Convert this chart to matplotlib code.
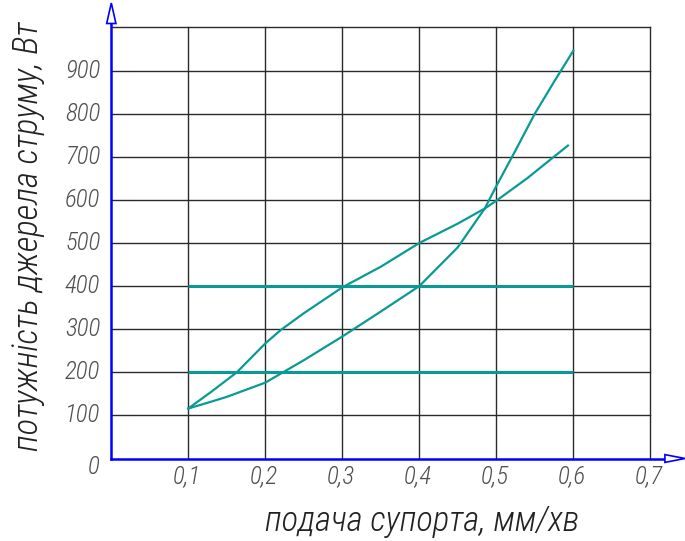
import matplotlib
matplotlib.use('Agg')
import matplotlib.pyplot as plt
from matplotlib.patches import Polygon

# Data (feed mm/rev, power W)
feed_a = [0.10, 0.13, 0.15, 0.20, 0.223, 0.25, 0.30, 0.35, 0.40, 0.45, 0.485, 0.50, 0.525, 0.55, 0.575, 0.60]
power_a = [116, 132, 143, 176, 200, 228, 283, 341, 400, 490, 580, 632, 715, 800, 874, 946]
feed_b = [0.10, 0.13, 0.163, 0.20, 0.22, 0.25, 0.30, 0.35, 0.40, 0.45, 0.485, 0.50, 0.54, 0.565, 0.593]
power_b = [116, 155, 200, 267, 298, 337, 397, 445, 500, 545, 580, 598, 650, 686, 726]
limit_levels = [200, 400]
limit_range = [0.1, 0.6]

x_ticks = [0.1, 0.2, 0.3, 0.4, 0.5, 0.6, 0.7]
x_tick_labels = ['0,1', '0,2', '0,3', '0,4', '0,5', '0,6', '0,7']
y_ticks = [100, 200, 300, 400, 500, 600, 700, 800, 900]

teal = '#0a9a96'
blue = '#0000ff'
label_gray = '#505050'
font = ['Roboto Condensed', 'DejaVu Sans']

W, H = 685, 541
x0, y0 = 111.3, 458.5      # pixel position of the origin
sx, sy = 770.0, 0.431      # pixels per unit

fig = plt.figure(figsize=(W / 100, H / 100), dpi=100)
ax = fig.add_axes([x0 / W, (H - y0) / H, (W - x0) / W, (y0 - 3) / H])
ax.set_xlim(0, (W - x0) / sx)
ax.set_ylim(0, (y0 - 3) / sy)
ax.axis('off')

# grid
for xv in x_ticks:
    ax.plot([xv, xv], [0, 1000], color='#2a2a2a', lw=1.0, zorder=1)
for yv in y_ticks + [1000]:
    ax.plot([0, 0.7], [yv, yv], color='#2a2a2a', lw=1.0, zorder=1)

# curves
ax.plot(feed_a, power_a, color=teal, lw=1.6, zorder=3)
ax.plot(feed_b, power_b, color=teal, lw=1.6, zorder=3)
for lv in limit_levels:
    ax.plot(limit_range, [lv, lv], color=teal, lw=2.2, zorder=3, solid_capstyle='butt')

# axes with arrows
xmax = ax.get_xlim()[1]
ymax = ax.get_ylim()[1]
ax.plot([0, xmax * 0.97], [0, 0], color=blue, lw=1.8, zorder=4, clip_on=False)
ax.plot([0, 0], [0, ymax * 0.97], color=blue, lw=1.8, zorder=4, clip_on=False)
ax.add_patch(Polygon([[xmax * 0.965, 9], [xmax, 0], [xmax * 0.965, -9]],
                     closed=True, fc='white', ec=blue, lw=1.2, zorder=5, clip_on=False))
ax.add_patch(Polygon([[-0.006, ymax * 0.955], [0, ymax], [0.006, ymax * 0.955]],
                     closed=True, fc='white', ec=blue, lw=1.2, zorder=5, clip_on=False))

# tick labels
for yv in y_ticks:
    ax.text(-11 / sx, yv, str(yv), ha='right', va='center', fontsize=18, weight='light',
            style='italic', color=label_gray, family=font)
ax.text(-12 / sx, -20, '0', ha='right', va='center', fontsize=18, weight='light',
        style='italic', color=label_gray, family=font)
for xv, lab in zip(x_ticks, x_tick_labels):
    ax.text(xv - 2 / sx, -40, lab, ha='center', va='center', fontsize=18, weight='light',
            style='italic', color=label_gray, family=font)

fig.text(422 / W, 1 - 521 / H, 'подача супорта, мм/хв', ha='center', va='center',
         fontsize=25, weight='light', style='italic', color='#222222', family=font)
fig.text(29 / W, 1 - 236 / H, 'потужність джерела струму, Вт', ha='center', va='center',
         rotation=90, fontsize=25, weight='light', style='italic', color='#222222', family=font)

fig.savefig('out.png', dpi=100, facecolor='white')
